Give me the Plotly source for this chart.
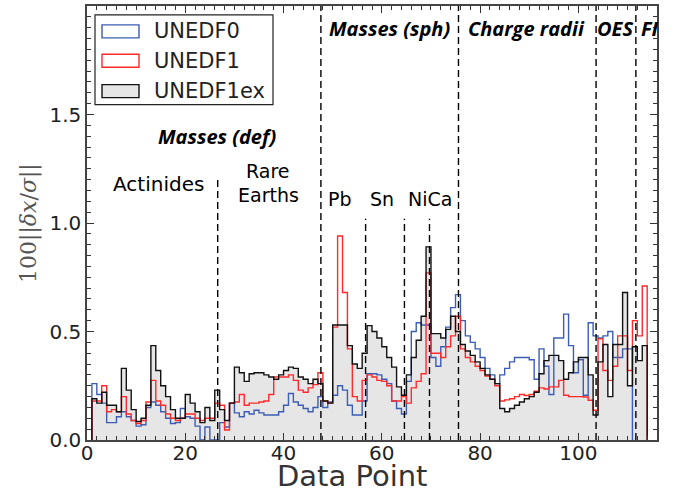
import plotly.graph_objects as go

# ---------------- data (bin i spans [i, i+1]) ----------------
unedf0 = [0.26, 0.21, 0.17, 0.08, 0.08, 0.107, 0.13, 0.107, 0.09, 0.064,
          0.07, 0.15, 0.175, 0.16, 0.13, 0.10, 0.076, 0.08, 0.145, 0.107,
          0.10, 0.064, 0.0, 0.06, 0.0, 0.0, 0.08, 0.06, 0.17, 0.125,
          0.107, 0.13, 0.12, 0.137, 0.125, 0.115, 0.115, 0.115, 0.13, 0.16,
          0.214, 0.175, 0.16, 0.145, 0.13, 0.15, 0.2, 0.15, 0.175, 0.206,
          0.25, 0.23, 0.16, 0.115, 0.115, 0.18, 0.305, 0.305, 0.30, 0.28,
          0.26, 0.18, 0.145, 0.12, 0.27, 0.50, 0.54, 0.53, 0.53, 0.38,
          0.34, 0.43, 0.52, 0.61, 0.67, 0.55, 0.48, 0.45, 0.42, 0.38,
          0.33, 0.30, 0.26, 0.30, 0.33, 0.36, 0.38, 0.38, 0.38, 0.37,
          0.28, 0.42, 0.34, 0.21, 0.47, 0.47, 0.58, 0.435, 0.31, 0.37,
          0.206, 0.54, 0.48, 0.47, 0.48, 0.50, 0.38, 0.38, 0.42, 0.42]

unedf1 = [0.18, 0.18, 0.25, 0.13, 0.14, 0.13, 0.20, 0.12, 0.09, 0.076,
          0.09, 0.175, 0.275, 0.18, 0.16, 0.12, 0.10, 0.09, 0.10, 0.12,
          0.12, 0.10, 0.09, 0.10, 0.10, 0.17, 0.16, 0.046, 0.17, 0.175,
          0.21, 0.16, 0.17, 0.17, 0.175, 0.18, 0.21, 0.29, 0.29, 0.29,
          0.30, 0.275, 0.23, 0.22, 0.24, 0.255, 0.31, 0.18, 0.17, 0.52,
          0.94, 0.68, 0.42, 0.20, 0.18, 0.275, 0.30, 0.29, 0.275, 0.27,
          0.25, 0.18, 0.18, 0.20, 0.17, 0.24, 0.27, 0.305, 0.77, 0.40,
          0.40, 0.38, 0.43, 0.48, 0.57, 0.42, 0.38, 0.36, 0.34, 0.32,
          0.295, 0.28, 0.25, 0.18, 0.185, 0.19, 0.20, 0.21, 0.205, 0.21,
          0.225, 0.24, 0.235, 0.245, 0.245, 0.275, 0.206, 0.20, 0.20, 0.20,
          0.198, 0.183, 0.137, 0.466, 0.32, 0.275, 0.34, 0.48, 0.48, 0.32,
          0.55, 0.48, 0.71]

unedf1ex = [0.19, 0.17, 0.22, 0.16, 0.16, 0.13, 0.33, 0.23, 0.14, 0.085,
            0.10, 0.16, 0.435, 0.32, 0.25, 0.20, 0.14, 0.10, 0.10, 0.21,
            0.17, 0.13, 0.08, 0.15, 0.09, 0.23, 0.14, 0.09, 0.17, 0.336,
            0.31, 0.27, 0.305, 0.31, 0.31, 0.30, 0.29, 0.28, 0.30, 0.32,
            0.336, 0.33, 0.29, 0.28, 0.26, 0.28, 0.26, 0.18, 0.17, 0.53,
            0.53, 0.53, 0.435, 0.35, 0.33, 0.40, 0.527, 0.50, 0.47, 0.43,
            0.38, 0.336, 0.245, 0.206, 0.30, 0.38, 0.46, 0.57, 0.89, 0.49,
            0.49, 0.47, 0.51, 0.57, 0.50, 0.44, 0.41, 0.39, 0.36, 0.33,
            0.30, 0.28, 0.26, 0.145, 0.13, 0.145, 0.16, 0.175, 0.19, 0.20,
            0.22, 0.305, 0.366, 0.39, 0.39, 0.366, 0.28, 0.31, 0.36, 0.38,
            0.38, 0.30, 0.115, 0.36, 0.44, 0.20, 0.44, 0.44, 0.68, 0.25,
            0.43, 0.366, 0.435]

series_names = ["UNEDF0", "UNEDF1", "UNEDF1ex"]
x_ticks = [0, 20, 40, 60, 80, 100]
y_ticks = [0.0, 0.5, 1.0, 1.5]
region_bounds = [26.6, 47.6, 56.7, 64.6, 69.7, 75.6, 103.6, 111.7]
region_tops = [1.21, 2.0, 1.02, 1.02, 1.02, 2.0, 2.0, 2.0]

# ---------------- layout helpers ----------------
W, H = 680, 495
L, R, T, B = 87, 23, 4, 55


def px(xp):
    return (xp - L) / (W - L - R)


def py(yp):
    return (H - B - yp) / (H - T - B)


def steps(vals):
    n = len(vals)
    xs = [1] + list(range(1, n + 1)) + [n + 1]
    ys = [0] + list(vals) + [0]
    return xs, ys


BLUE = "#3d5db5"
RED = "#ff2a2a"
GRAY = "#e6e6e6"

fig = go.Figure()

xs, ys = steps(unedf1ex)
fig.add_trace(go.Scatter(x=xs, y=ys, mode="lines", line=dict(shape="hv", width=0),
                         fill="tozeroy", fillcolor=GRAY, hoverinfo="skip",
                         showlegend=False))
for vals, col, name in [(unedf0, BLUE, series_names[0]),
                        (unedf1, RED, series_names[1]),
                        (unedf1ex, "#111111", series_names[2])]:
    xs, ys = steps(vals)
    fig.add_trace(go.Scatter(x=xs, y=ys, mode="lines", name=name,
                             line=dict(shape="hv", width=1.4, color=col),
                             showlegend=False))

shapes = []
for xb, yt in zip(region_bounds, region_tops):
    shapes.append(dict(type="line", xref="x", yref="y", x0=xb, x1=xb, y0=0, y1=yt,
                       line=dict(color="black", width=1.4, dash="7px,4px")))

# manual legend
shapes.append(dict(type="rect", xref="paper", yref="paper",
                   x0=px(95), x1=px(273), y0=py(103), y1=py(13),
                   line=dict(color="#222", width=1.2), fillcolor="white"))
leg_rows = [29.5, 59, 89.5]
leg_style = [("white", BLUE), ("white", RED), (GRAY, "#111")]
annotations = []
for (fc, lc), yc, name in zip(leg_style, leg_rows, series_names):
    shapes.append(dict(type="rect", xref="paper", yref="paper",
                       x0=px(102), x1=px(139), y0=py(yc + 6.5), y1=py(yc - 6.5),
                       line=dict(color=lc, width=1.4), fillcolor=fc))
    annotations.append(dict(text=name, xref="paper", yref="paper", x=px(152), y=py(yc),
                            xanchor="left", yanchor="middle", showarrow=False,
                            font=dict(family="DejaVu Sans", size=21, color="#222")))

bold_font = dict(family="Open Sans", size=20, color="black")
reg_font = dict(family="DejaVu Sans", size=19, color="black")
labels = [
    ("<b><i>Masses (def)</i></b>", 217, 135, bold_font),
    ("<b><i>Masses (sph)</i></b>", 389, 27, bold_font),
    ("<b><i>Charge radii</i></b>", 526, 27, bold_font),
    ("<b><i>OES</i></b>", 615, 27, bold_font),
    ("<b><i>FI</i></b>", 650, 27, bold_font),
    ("Actinides", 158, 183, dict(family="DejaVu Sans", size=20, color="black")),
    ("Rare", 268, 170, reg_font),
    ("Earths", 268, 194, reg_font),
    ("Pb", 340, 198, reg_font),
    ("Sn", 382, 198, reg_font),
    ("NiCa", 430, 198, reg_font),
]
for txt, x0, y0, f in labels:
    annotations.append(dict(text=txt, xref="paper", yref="paper", x=px(x0), y=py(y0),
                            xanchor="center", yanchor="middle", showarrow=False, font=f))

annotations.append(dict(text="100||<i>δx</i>/<i>σ</i>||", xref="paper", yref="paper",
                        x=px(29), y=py(222), textangle=-90, xanchor="center",
                        yanchor="middle", showarrow=False,
                        font=dict(family="DejaVu Serif", size=22, color="#555")))
annotations.append(dict(text="Data Point", xref="paper", yref="paper",
                        x=px(352), y=py(476), xanchor="center", yanchor="middle",
                        showarrow=False,
                        font=dict(family="DejaVu Sans", size=29, color="#333")))

axis_common = dict(showline=True, linecolor="#444", linewidth=1.5, mirror="allticks",
                   ticks="inside", ticklen=7, tickwidth=1.2, tickcolor="#333",
                   showgrid=False, zeroline=False,
                   tickfont=dict(family="DejaVu Sans", size=20, color="#222"))

fig.update_layout(
    width=W, height=H, margin=dict(l=L, r=R, t=T, b=B),
    paper_bgcolor="white", plot_bgcolor="white",
    shapes=shapes, annotations=annotations, showlegend=False,
    xaxis=dict(range=[0, 116], tickvals=x_ticks, ticklabelstandoff=-6,
               minor=dict(dtick=2, ticks="inside", ticklen=4, tickcolor="#333"),
               **axis_common),
    yaxis=dict(range=[0, 2], tickvals=y_ticks, tickformat=".1f",
               minor=dict(dtick=0.05, ticks="inside", ticklen=4, tickcolor="#333"),
               **axis_common),
)

fig.write_html("out.html")
